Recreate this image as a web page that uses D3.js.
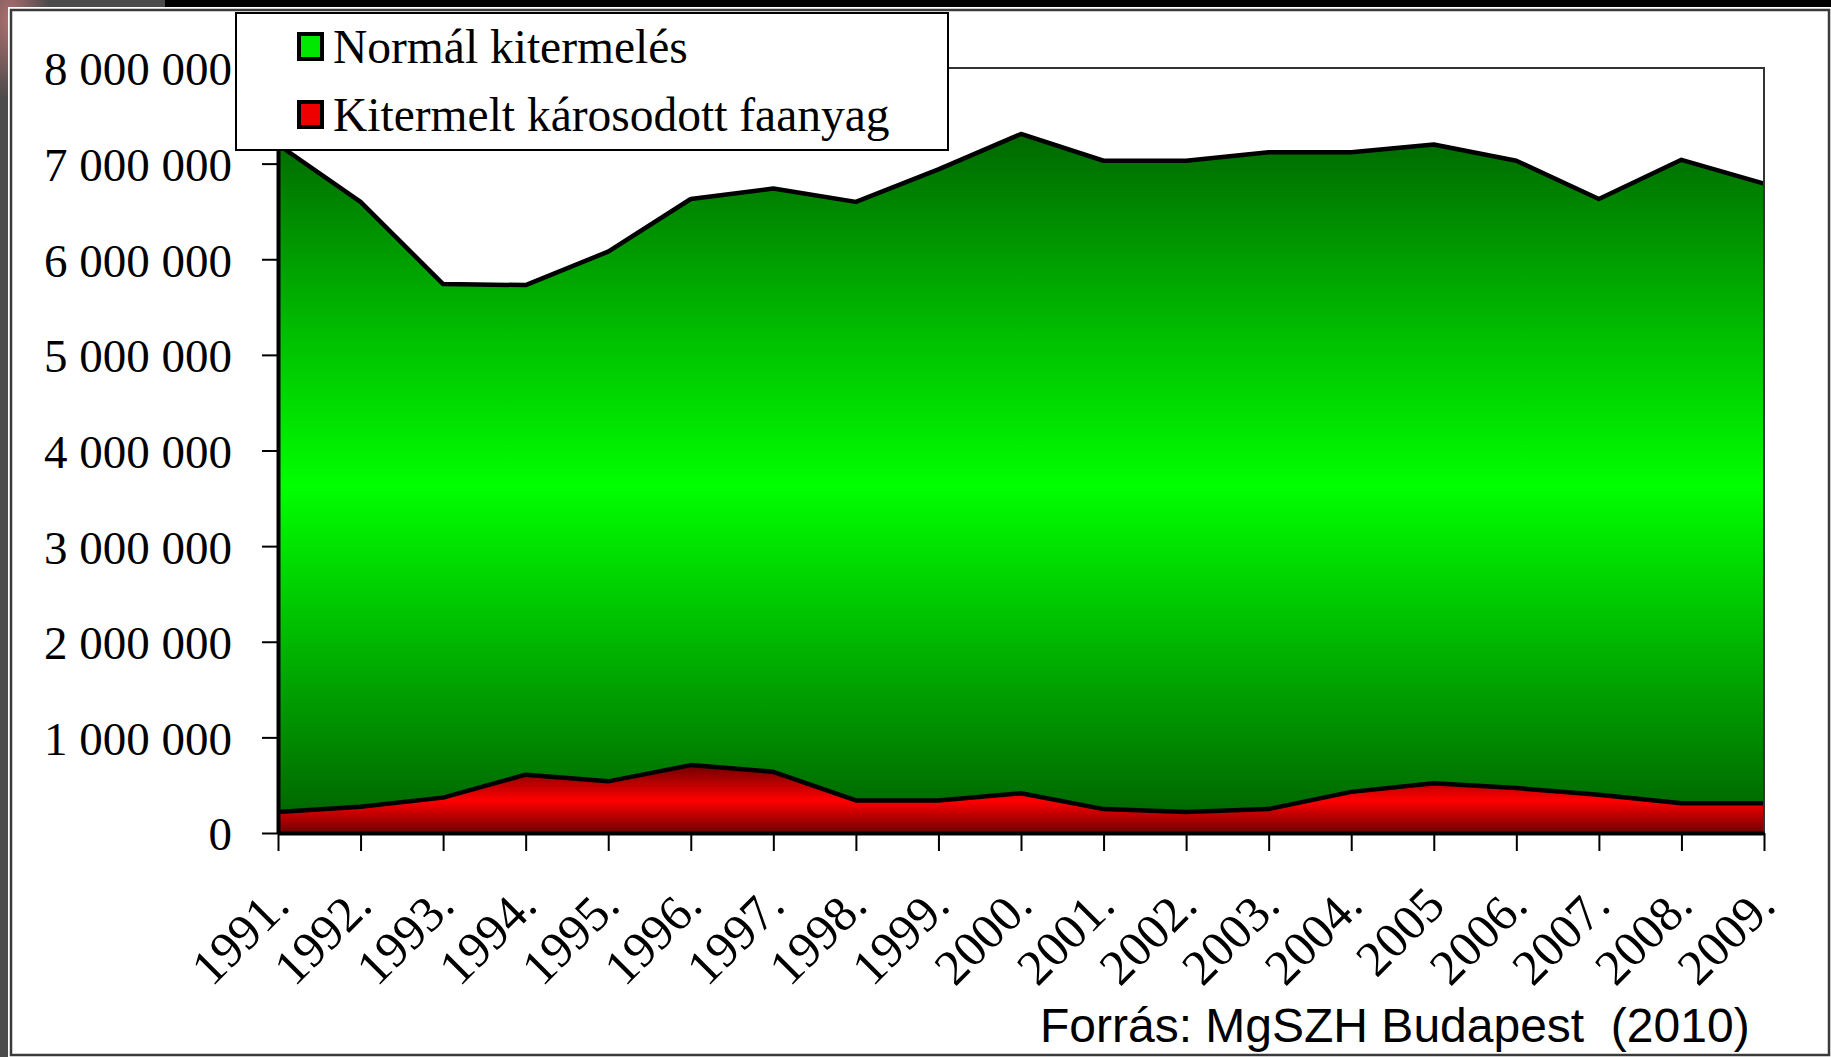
<!DOCTYPE html>
<html>
<head>
<meta charset="utf-8">
<script src="https://cdn.jsdelivr.net/npm/d3@7"></script>
<style>
  html, body { margin: 0; padding: 0; background: #4b4b4b; overflow: hidden; }
  svg { display: block; }
</style>
</head>
<body>
<div id="chart"></div>
<script>
// Adatok (m3), a kép alapján becsülve
const years = [1991, 1992, 1993, 1994, 1995, 1996, 1997, 1998, 1999, 2000,
               2001, 2002, 2003, 2004, 2005, 2006, 2007, 2008, 2009];
const yearLabels = ["1991.", "1992.", "1993.", "1994.", "1995.", "1996.", "1997.", "1998.", "1999.", "2000.",
                    "2001.", "2002.", "2003.", "2004.", "2005", "2006.", "2007.", "2008.", "2009."];
const damaged = [220000, 275000, 370000, 610000, 540000, 710000, 640000, 340000, 340000, 415000,
                 250000, 220000, 250000, 430000, 520000, 470000, 400000, 310000, 310000];
const normal = [6980000, 6325000, 5370000, 5120000, 5540000, 5920000, 6100000, 6260000, 6600000, 6895000,
                6780000, 6810000, 6870000, 6690000, 6680000, 6560000, 6230000, 6730000, 6480000];
const yTicks = [0, 1000000, 2000000, 3000000, 4000000, 5000000, 6000000, 7000000, 8000000];
const seriesNames = ["Normál kitermelés", "Kitermelt károsodott faanyag"];
const sourceText = "Forrás: MgSZH Budapest  (2010)";

const W = 1831, H = 1057;
const plot = { left: 278, right: 1764, top: 68, bottom: 833 };

const svg = d3.select("#chart").append("svg")
    .attr("width", W)
    .attr("height", H);

const defs = svg.append("defs");

function vGradient(id, edge, mid) {
    const g = defs.append("linearGradient")
        .attr("id", id)
        .attr("x1", 0).attr("y1", 0).attr("x2", 0).attr("y2", 1);
    g.append("stop").attr("offset", "0%").attr("stop-color", edge);
    g.append("stop").attr("offset", "52%").attr("stop-color", mid);
    g.append("stop").attr("offset", "100%").attr("stop-color", edge);
}
vGradient("gGreen", "#006800", "#00ff00");
vGradient("gRed", "#6e0000", "#ff0000");

const blob = defs.append("radialGradient").attr("id", "gBlob");
blob.append("stop").attr("offset", "0%").attr("stop-color", "#b07070");
blob.append("stop").attr("offset", "100%").attr("stop-color", "#4b4b4b");

// Háttér / dia keret
svg.append("rect").attr("width", W).attr("height", H).attr("fill", "#4b4b4b");
svg.append("ellipse").attr("cx", 10).attr("cy", 20).attr("rx", 40).attr("ry", 80).attr("fill", "url(#gBlob)");
svg.append("rect").attr("x", 165).attr("y", 0).attr("width", W - 165).attr("height", 8).attr("fill", "#000");
svg.append("rect").attr("x", 8).attr("y", 7).attr("width", W - 8).attr("height", H - 7).attr("fill", "#fff");
svg.append("rect").attr("x", 11).attr("y", 10).attr("width", 1818).attr("height", 1045)
    .attr("fill", "none").attr("stroke", "#3a3a3a").attr("stroke-width", 2.5);

// Skálák
const x = d3.scalePoint().domain(years).range([plot.left, plot.right]);
const y = d3.scaleLinear().domain([0, 8000000]).range([plot.bottom, plot.top]);

const rows = years.map((yr, i) => ({ year: yr, damaged: damaged[i], normal: normal[i] }));
const stacked = d3.stack().keys(["damaged", "normal"])(rows);

const area = d3.area()
    .x(d => x(d.data.year))
    .y0(d => y(d[0]))
    .y1(d => y(d[1]));
const topLine = d3.line()
    .x(d => x(d.data.year))
    .y(d => y(d[1]));

const fills = { damaged: "url(#gRed)", normal: "url(#gGreen)" };

svg.selectAll(".area")
    .data(stacked)
    .enter().append("path")
    .attr("class", "area")
    .attr("d", area)
    .attr("fill", d => fills[d.key]);

svg.selectAll(".edge")
    .data(stacked)
    .enter().append("path")
    .attr("class", "edge")
    .attr("d", topLine)
    .attr("fill", "none")
    .attr("stroke", "#000")
    .attr("stroke-width", 4.5)
    .attr("stroke-linejoin", "round");

// Rajzterület kerete
svg.append("rect")
    .attr("x", plot.left).attr("y", plot.top)
    .attr("width", plot.right - plot.left).attr("height", plot.bottom - plot.top)
    .attr("fill", "none").attr("stroke", "#333").attr("stroke-width", 2);

// Tengelyek
const huFormat = d3.formatLocale({ decimal: ",", thousands: " ", grouping: [3], currency: ["", ""] }).format(",d");

const yAxis = svg.append("g")
    .attr("transform", `translate(${plot.left},0)`)
    .call(d3.axisLeft(y).tickValues(yTicks).tickFormat(huFormat).tickSize(16).tickSizeOuter(0).tickPadding(30));
yAxis.select(".domain").attr("stroke", "#000").attr("stroke-width", 4);
yAxis.selectAll(".tick line").attr("stroke", "#000").attr("stroke-width", 2);
yAxis.selectAll(".tick text")
    .attr("dy", "0.36em")
    .attr("fill", "#000")
    .style("font-family", "'Liberation Serif', 'Times New Roman', serif")
    .style("font-size", "47px");

const xAxis = svg.append("g")
    .attr("transform", `translate(0,${plot.bottom})`)
    .call(d3.axisBottom(x).tickSize(18).tickSizeOuter(0).tickFormat((d, i) => yearLabels[i]));
xAxis.select(".domain").attr("stroke", "#000").attr("stroke-width", 4);
xAxis.selectAll(".tick line").attr("stroke", "#000").attr("stroke-width", 2);
xAxis.selectAll(".tick text")
    .attr("x", 0).attr("y", 0).attr("dy", null)
    .attr("text-anchor", "end")
    .attr("transform", "translate(13,75) rotate(-45)")
    .attr("fill", "#000")
    .style("font-family", "'Liberation Serif', 'Times New Roman', serif")
    .style("font-size", "50px");

// Jelmagyarázat
const legend = svg.append("g");
legend.append("rect")
    .attr("x", 236).attr("y", 13).attr("width", 712).attr("height", 137)
    .attr("fill", "#fff").attr("stroke", "#000").attr("stroke-width", 2);

const swatchColors = ["#00e800", "#ee0000"];
const item = legend.selectAll(".item")
    .data(seriesNames)
    .enter().append("g")
    .attr("class", "item")
    .attr("transform", (d, i) => `translate(0,${i * 68})`);
item.append("rect")
    .attr("x", 299).attr("y", 34).attr("width", 23).attr("height", 25)
    .attr("fill", (d, i) => swatchColors[i])
    .attr("stroke", "#000").attr("stroke-width", 4);
item.append("text")
    .attr("x", 333).attr("y", 63)
    .style("font-family", "'Liberation Serif', 'Times New Roman', serif")
    .style("font-size", "47.5px")
    .text(d => d);

// Forrás
svg.append("text")
    .attr("x", 1040).attr("y", 1042)
    .style("font-family", "'Liberation Sans', Arial, sans-serif")
    .style("font-size", "48px")
    .style("white-space", "pre")
    .text(sourceText);
</script>
</body>
</html>
